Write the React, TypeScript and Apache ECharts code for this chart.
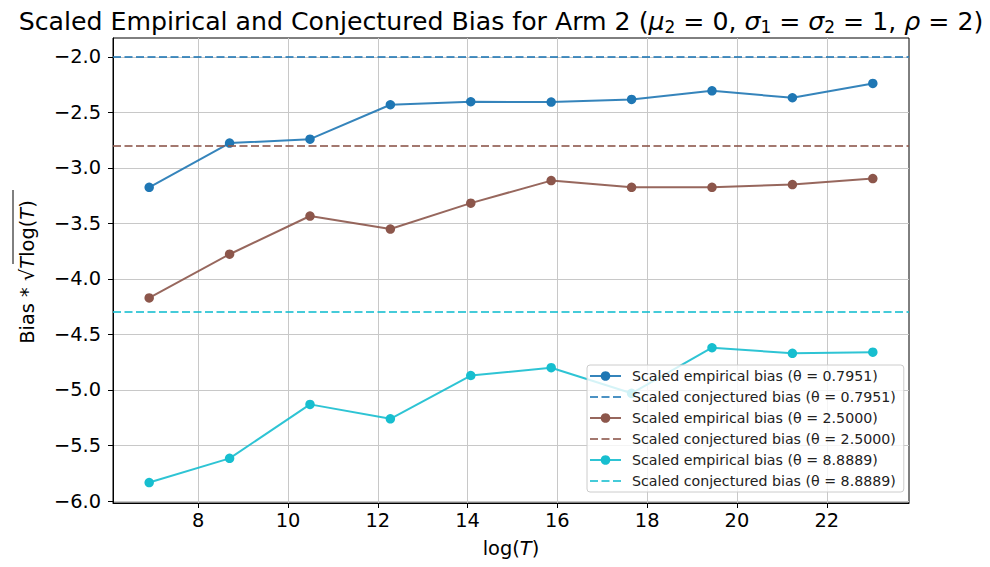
import React, { useEffect, useRef } from "react";
import * as echarts from "echarts";

const logT = [6.908, 8.699, 10.49, 12.28, 14.071, 15.862, 17.653, 19.444, 21.235, 23.026];
const empBlue = [-3.175, -2.777, -2.742, -2.432, -2.405, -2.408, -2.384, -2.307, -2.369, -2.24];
const empBrown = [-4.171, -3.778, -3.434, -3.551, -3.318, -3.115, -3.175, -3.175, -3.151, -3.097];
const empCyan = [-5.834, -5.616, -5.13, -5.26, -4.87, -4.8, -5.03, -4.62, -4.67, -4.66];
const conjectured = [-2.0, -2.8, -4.3];
const thetas = ["0.7951", "2.5000", "8.8889"];
const colors = ["#1f77b4", "#8c564b", "#17becf"];
const xTicks = [8, 10, 12, 14, 16, 18, 20, 22];
const yTicks = [-6.0, -5.5, -5.0, -4.5, -4.0, -3.5, -3.0, -2.5, -2.0];

const FONT = "DejaVu Sans";

export default function App() {
  const ref = useRef<HTMLDivElement>(null);
  useEffect(() => {
    if (!ref.current) return;
    const chart = echarts.init(ref.current, undefined, { renderer: "svg" });
    const emp = [empBlue, empBrown, empCyan];
    const series: any[] = [];
    const legendData: any[] = [];
    for (let i = 0; i < 3; i++) {
      const empName = `Scaled empirical bias (θ = ${thetas[i]})`;
      const conjName = `Scaled conjectured bias (θ = ${thetas[i]})`;
      series.push({
        name: empName,
        type: "line",
        data: logT.map((x, j) => [x, emp[i][j]]),
        symbol: "circle",
        symbolSize: 9.5,
        showSymbol: true,
        itemStyle: { color: colors[i] },
        lineStyle: { color: colors[i], width: 2, opacity: 0.9 },
        z: 3,
      });
      series.push({
        name: conjName,
        type: "line",
        data: [],
        symbol: "none",
        itemStyle: { color: colors[i], opacity: 0.8 },
        lineStyle: { color: colors[i], width: 2, type: [8, 3.5], opacity: 0.8 },
        markLine: {
          silent: true,
          symbol: "none",
          label: { show: false },
          lineStyle: { color: colors[i], width: 2, type: [8, 3.5], opacity: 0.8 },
          data: [{ yAxis: conjectured[i] }],
        },
        z: 2,
      });
      legendData.push({ name: empName });
      legendData.push({ name: conjName, itemStyle: { opacity: 0 } });
    }
    chart.setOption({
      animation: false,
      textStyle: { fontFamily: FONT },
      grid: {
        left: 113,
        right: 81,
        top: 38,
        bottom: 64,
        show: true,
        borderColor: "#000",
        borderWidth: 1,
        backgroundColor: "transparent",
      },
      xAxis: {
        type: "value",
        min: 6.102,
        max: 23.832,
        axisLine: { show: true, lineStyle: { color: "#000", width: 1 } },
        axisTick: { show: true, length: 5, lineStyle: { color: "#000" }, customValues: xTicks },
        axisLabel: {
          customValues: xTicks,
          color: "#000",
          fontSize: 19.4,
          fontFamily: FONT,
          margin: 8,
          formatter: (v: number) => String(v),
        },
        splitLine: { show: true, lineStyle: { color: "#c8c8c8", width: 1 } },
      },
      yAxis: {
        type: "value",
        min: -6.018,
        max: -1.831,
        axisLine: { show: true, lineStyle: { color: "#000", width: 1 } },
        axisTick: { show: true, length: 5, lineStyle: { color: "#000" }, customValues: yTicks },
        axisLabel: {
          customValues: yTicks,
          color: "#000",
          fontSize: 19.4,
          fontFamily: FONT,
          margin: 12,
          formatter: (v: number) => v.toFixed(1).replace("-", "\u2212"),
        },
        splitLine: { show: true, lineStyle: { color: "#c8c8c8", width: 1 } },
      },
      legend: {
        orient: "vertical",
        left: 587,
        top: 365,
        padding: [3, 8, 3, 2],
        itemWidth: 31,
        itemHeight: 12,
        itemGap: 5,
        backgroundColor: "rgba(255,255,255,0.8)",
        borderColor: "#cccccc",
        borderWidth: 1,
        borderRadius: 3,
        textStyle: { fontSize: 14.2, fontFamily: FONT, color: "#222", lineHeight: 16, padding: [0, 0, 0, 6] },
        data: legendData,
        z: 10,
      },
      graphic: [
        {
          type: "text",
          x: 501,
          y: 21,
          z: 10,
          style: {
            text:
              "Scaled Empirical and Conjectured Bias for Arm 2 ({i|μ}{s|2} = 0, {i|σ}{s|1} = {i|σ}{s|2} = 1, {i|ρ} = 2)",
            align: "center",
            verticalAlign: "middle",
            fontSize: 25.2,
            fontFamily: FONT,
            fill: "#000",
            lineHeight: 29,
            rich: {
              i: { fontStyle: "italic", fontSize: 25.2, fontFamily: FONT, lineHeight: 29 },
              s: { fontSize: 17, fontFamily: FONT, verticalAlign: "bottom", lineHeight: 20 },
            },
          },
        },
        {
          type: "text",
          x: 511,
          y: 548,
          z: 10,
          style: {
            text: "log({i|T})",
            align: "center",
            verticalAlign: "middle",
            fontSize: 19.4,
            fontFamily: FONT,
            fill: "#000",
            rich: { i: { fontStyle: "italic", fontSize: 19.4, fontFamily: FONT } },
          },
        },
        {
          type: "text",
          x: 27,
          y: 272,
          rotation: Math.PI / 2,
          z: 10,
          style: {
            text: "Bias * √{i|T}log({i|T})",
            align: "center",
            verticalAlign: "middle",
            fontSize: 19.4,
            fontFamily: FONT,
            fill: "#000",
            rich: { i: { fontStyle: "italic", fontSize: 19.4, fontFamily: FONT } },
          },
        },
        {
          type: "line",
          z: 10,
          shape: { x1: 13, y1: 190, x2: 13, y2: 264 },
          style: { stroke: "#000", lineWidth: 1 },
        },
      ],
      series,
    });
    return () => chart.dispose();
  }, []);
  return (
    <div
      ref={ref}
      style={{ position: "absolute", left: 0, top: 0, width: 990, height: 567, background: "#fff" }}
    />
  );
}
